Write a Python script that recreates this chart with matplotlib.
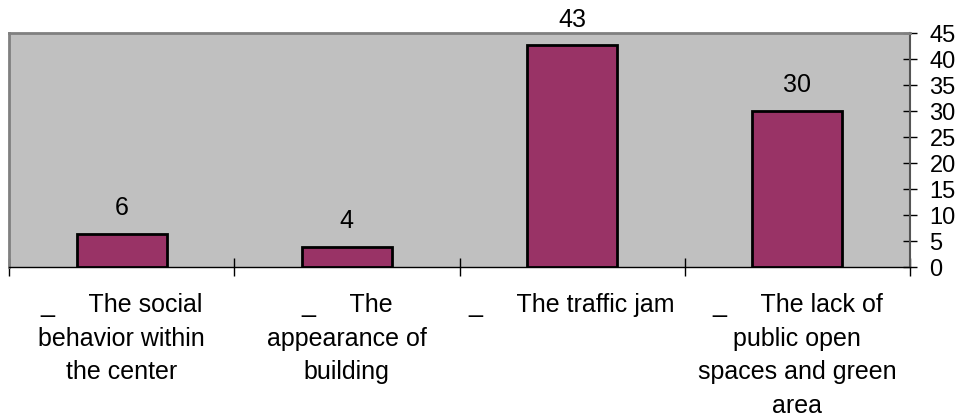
import matplotlib
matplotlib.use("Agg")
import matplotlib.pyplot as plt
import numpy as np

categories = [
    "_     The social\nbehavior within\nthe center",
    "_     The\nappearance of\nbuilding",
    "_     The traffic jam",
    "_     The lack of\npublic open\nspaces and green\narea",
]
values = [6.3, 3.8, 42.6, 30.0]
yticks = [0, 5, 10, 15, 20, 25, 30, 35, 40, 45]

plt.rcParams['font.family'] = ['Liberation Sans', 'DejaVu Sans']

fig = plt.figure(figsize=(9.64, 4.16), dpi=100)
ax = fig.add_axes([9/964, (416-267)/416, (910-9)/964, (267-33)/416])
ax.set_facecolor('#C0C0C0')

x = np.arange(len(values))
bars = ax.bar(x, values, width=0.4, color='#993366', edgecolor='black', linewidth=2, zorder=3)
for xi, v in zip(x, values):
    ax.annotate(f"{v:.0f}", (xi, v), xytext=(0, 10), textcoords='offset points',
                ha='center', va='bottom', fontsize=18, color='black', zorder=4)

ax.set_xlim(-0.5, len(values) - 0.5)
ax.set_ylim(0, 45)

ax.yaxis.tick_right()
ax.set_yticks(yticks)
ax.set_yticklabels([str(t) for t in yticks])
ax.tick_params(axis='y', direction='inout', length=10, width=1, pad=9, labelsize=17,
               colors='black')

ax.set_xticks(x)
ax.set_xticklabels(categories, fontsize=18, linespacing=1.5, va='top')
ax.tick_params(axis='x', which='major', length=0, pad=19)
ax.set_xticks(np.arange(-0.5, len(values), 1.0), minor=True)
ax.tick_params(axis='x', which='minor', direction='inout', length=13, width=1, color='black')

for s in ['top', 'left']:
    ax.spines[s].set_color('#808080')
    ax.spines[s].set_linewidth(2)
ax.spines['right'].set_color('#555555')
ax.spines['right'].set_linewidth(1.5)
ax.spines['bottom'].set_color('black')
ax.spines['bottom'].set_linewidth(1)

fig.savefig('out.png', dpi=100, facecolor='white')
